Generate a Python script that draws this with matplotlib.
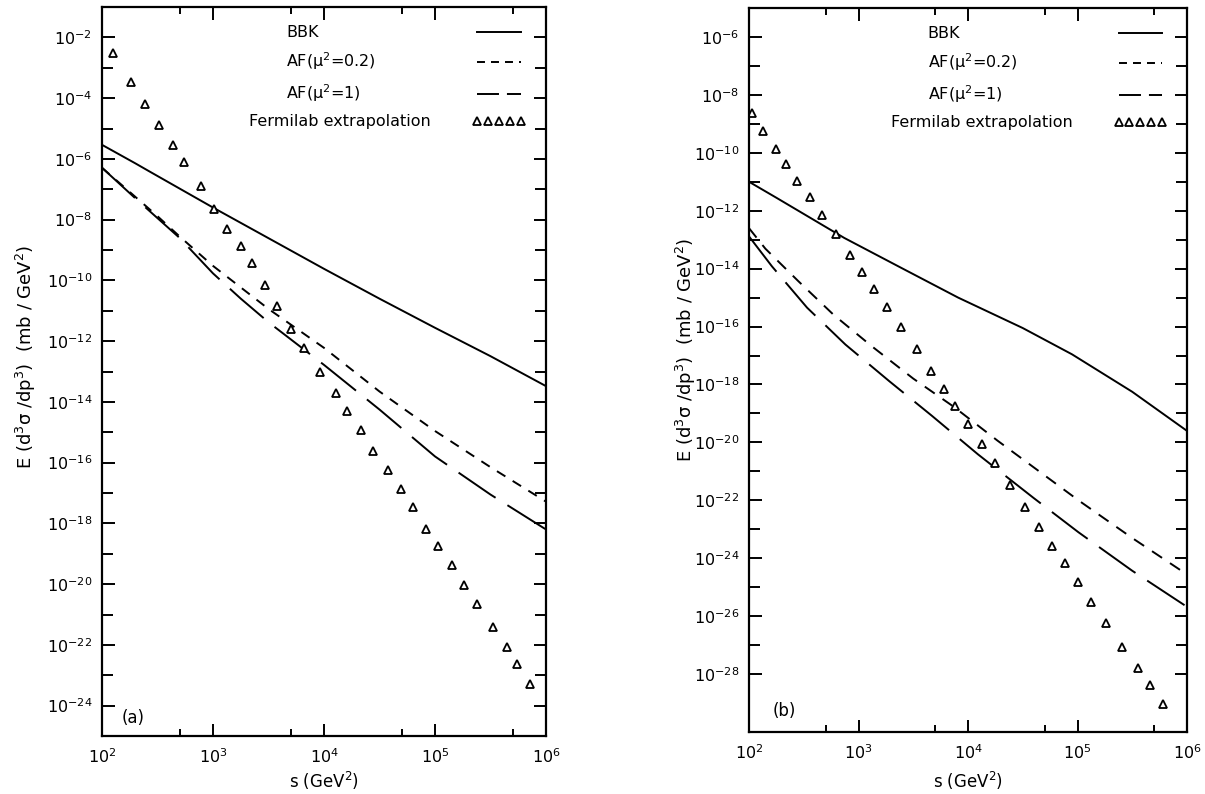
import matplotlib
matplotlib.use('Agg')
import matplotlib.pyplot as plt
from matplotlib.ticker import FixedLocator, LogLocator, LogFormatterSciNotation, NullFormatter

# ---- panel (a) ----
a_bbk_s = [100, 200, 263, 1000, 1e4, 3.16e4, 1e5, 3.16e5, 1e6]
a_bbk_y = [2.9e-6, 7.1e-7, 4.0e-7, 2.5e-8, 2.4e-10, 2.5e-11, 2.75e-12, 3.2e-13, 3.3e-14]

a_af02_s = [100, 316, 500, 1000, 3160, 1e4, 3.16e4, 1e5, 3.16e5, 1e6]
a_af02_y = [5.1e-7, 1.3e-8, 2.8e-9, 3.0e-10, 1.15e-11, 6.0e-13, 2.2e-14, 1.1e-15, 7.1e-17, 5.2e-18]

a_af1_s = [100, 200, 500, 1000, 1780, 3160, 1e4, 3.16e4, 1e5, 3.16e5, 1e6]
a_af1_y = [5.1e-7, 5.0e-8, 2.5e-9, 1.7e-10, 2.5e-11, 4.2e-12, 1.65e-13, 5.6e-15, 1.6e-16, 8.9e-18, 6.3e-19]

a_fnal_s = [126, 182, 245, 324, 437, 550, 776, 1020, 1350, 1780, 2240, 2950, 3800, 5010,
            6610, 9120, 1.29e4, 1.62e4, 2.14e4, 2.75e4, 3.80e4, 4.90e4, 6.31e4, 8.32e4,
            1.07e5, 1.41e5, 1.82e5, 2.40e5, 3.31e5, 4.47e5, 5.50e5, 7.24e5]
a_fnal_y = [3.0e-3, 3.5e-4, 6.6e-5, 1.3e-5, 2.9e-6, 7.6e-7, 1.3e-7, 2.3e-8, 4.8e-9, 1.35e-9,
            3.6e-10, 6.9e-11, 1.4e-11, 2.6e-12, 6.0e-13, 1.0e-13, 2.0e-14, 4.9e-15, 1.15e-15,
            2.5e-16, 5.8e-17, 1.35e-17, 3.5e-18, 6.6e-19, 1.8e-19, 4.2e-20, 9.1e-21, 2.2e-21,
            4.0e-22, 8.3e-23, 2.3e-23, 5.2e-24]

# ---- panel (b) ----
b_bbk_s = [100, 178, 741, 2450, 8130, 3.16e4, 8.91e4, 3.16e5, 1e6]
b_bbk_y = [1.0e-11, 2.8e-12, 1.15e-13, 1.07e-14, 1.0e-15, 8.9e-17, 1.1e-17, 5.6e-19, 2.5e-20]

b_af02_s = [100, 141, 282, 589, 1320, 3160, 7410, 1.86e4, 1.02e5, 3.16e5, 1e6]
b_af02_y = [2.5e-13, 4.9e-14, 3.7e-15, 2.6e-16, 2.1e-17, 1.6e-18, 1.7e-19, 1.15e-20, 1.0e-22, 5.0e-24, 2.75e-25]

b_af1_s = [100, 162, 339, 759, 1910, 4680, 1.23e4, 3.98e4, 1.02e5, 3.16e5, 1e6]
b_af1_y = [1.3e-13, 1.2e-14, 4.5e-16, 2.4e-17, 1.3e-18, 8.3e-20, 3.9e-21, 1.2e-22, 7.9e-24, 3.7e-25, 2.1e-26]

b_fnal_s = [106, 135, 178, 219, 275, 363, 468, 617, 832, 1070, 1380, 1820, 2450, 3390, 4570,
            6030, 7590, 1.0e4, 1.35e4, 1.78e4, 2.40e4, 3.31e4, 4.47e4, 5.89e4, 7.76e4, 1.0e5,
            1.32e5, 1.82e5, 2.57e5, 3.55e5, 4.57e5, 6.03e5]
b_fnal_y = [2.3e-9, 5.6e-10, 1.35e-10, 4.1e-11, 1.07e-11, 2.95e-12, 7.2e-13, 1.55e-13, 3.0e-14,
            7.6e-15, 2.0e-15, 4.7e-16, 9.5e-17, 1.74e-17, 3.0e-18, 7.1e-19, 1.8e-19, 4.4e-20,
            9.1e-21, 2.0e-21, 3.5e-22, 6.0e-23, 1.2e-23, 2.75e-24, 6.8e-25, 1.55e-25, 3.1e-26,
            5.6e-27, 8.5e-28, 1.6e-28, 4.1e-29, 9.3e-30]

labels = ['BBK', r'AF($\mu^2$=0.2)', r'AF($\mu^2$=1)', 'Fermilab extrapolation']

plt.rcParams['font.family'] = ['DejaVu Sans']
plt.rcParams['mathtext.default'] = 'regular'

fig = plt.figure(figsize=(12.05, 7.94), dpi=100)
ax1 = fig.add_axes([102 / 1205, 58 / 794, 444 / 1205, 729 / 794])
ax2 = fig.add_axes([749 / 1205, 62 / 794, 438 / 1205, 724 / 794])


def draw(ax, bbk, af02, af1, fnal, ylim, majors, short, tag, tagpos):
    lw = 1.4
    ax.plot(*bbk, color='black', lw=lw, label=labels[0])
    ax.plot(*af02, color='black', lw=lw, ls=(0, short), label=labels[1])
    ax.plot(*af1, color='black', lw=lw, ls=(0, (23, 7.2)), label=labels[2])
    ax.plot(*fnal, ls='none', marker='^', ms=6.2, mfc='white', mec='black', mew=1.3,
            label=labels[3])

    ax.set_xscale('log')
    ax.set_yscale('log')
    ax.set_xlim(1e2, 1e6)
    ax.set_ylim(*ylim)

    ax.xaxis.set_major_locator(LogLocator(base=10, numticks=10))
    ax.xaxis.set_minor_locator(LogLocator(base=10, subs=[5.0], numticks=10))
    ax.xaxis.set_minor_formatter(NullFormatter())
    ax.yaxis.set_major_locator(FixedLocator([10.0 ** e for e in majors]))
    ax.yaxis.set_minor_locator(FixedLocator([10.0 ** (e + 1) for e in majors]))
    ax.yaxis.set_major_formatter(LogFormatterSciNotation())
    ax.yaxis.set_minor_formatter(NullFormatter())

    ax.tick_params(which='both', direction='in', top=True, right=True, width=1.4,
                   labelsize=11.5)
    ax.tick_params(axis='x', which='major', length=9, pad=8)
    ax.tick_params(axis='x', which='minor', length=5)
    ax.tick_params(axis='y', which='major', length=9, pad=7)
    ax.tick_params(axis='y', which='minor', length=8)
    for sp in ax.spines.values():
        sp.set_linewidth(1.6)

    ax.set_xlabel(r's (GeV$^2$)', fontsize=12)
    ax.set_ylabel(r'E (d$^3\sigma$ /dp$^3$)  (mb / GeV$^2$)', fontsize=13)

    ax.text(tagpos[0], tagpos[1], tag, transform=ax.transAxes, fontsize=12)

    h = ax.get_window_extent().height
    leg = ax.legend(loc='upper right', bbox_to_anchor=(0.968, 1 - 12 / h), borderaxespad=0,
                    frameon=False, markerfirst=False, numpoints=5, handlelength=3.3,
                    labelspacing=0.64, handletextpad=2.6, fontsize=11.5, borderpad=0.4)
    keys = leg.get_lines()
    keys[1].set_linestyle((0, (4.1, 3.1)))
    keys[2].set_linestyle((0, (11.3, 4.1)))
    keys[3].set_markersize(5.5)
    return leg


leg1 = draw(ax1, (a_bbk_s, a_bbk_y), (a_af02_s, a_af02_y), (a_af1_s, a_af1_y),
            (a_fnal_s, a_fnal_y), (1e-25, 1e-1), range(-24, 0, 2), (5.1, 4.4),
            '(a)', (0.045, 0.018))
ax1.xaxis.set_label_coords(0.5, -0.047)
ax1.yaxis.set_label_coords(-0.144, 0.52)

leg2 = draw(ax2, (b_bbk_s, b_bbk_y), (b_af02_s, b_af02_y), (b_af1_s, b_af1_y),
            (b_fnal_s, b_fnal_y), (1e-30, 1e-5), range(-28, -4, 2), (6.2, 4.9),
            '(b)', (0.055, 0.022))
ax2.xaxis.set_label_coords(0.5, -0.052)
ax2.yaxis.set_label_coords(-0.116, 0.528)

# rows of the legend are right-aligned when the key comes last; put the
# first three labels on a common left edge, a bit right of the long one
fig.canvas.draw()
for leg in (leg1, leg2):
    texts = leg.get_texts()
    widths = [t.get_window_extent().width for t in texts]
    wmax = max(widths)
    for t, w in zip(texts[:3], widths[:3]):
        t.set_x(w - wmax + 37)

fig.savefig('out.png', dpi=100)
